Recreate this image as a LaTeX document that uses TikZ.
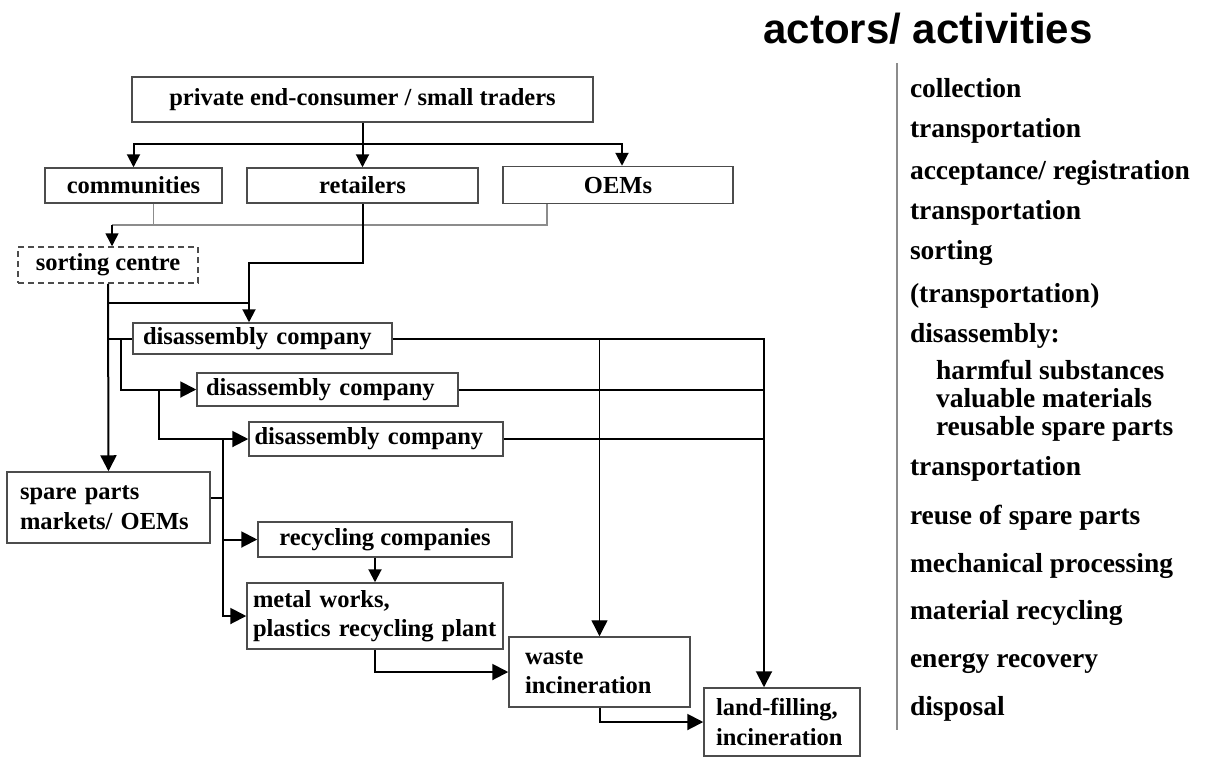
\documentclass[tikz,border=0pt]{standalone}
\usepackage{fontspec}
\usepackage{tikz}
\usetikzlibrary{arrows.meta}
\setmainfont{Liberation Serif}
\newfontfamily\headfont{Liberation Sans}
\definecolor{framegray}{rgb}{0.3,0.3,0.3}
\definecolor{feedgray}{rgb}{0.55,0.55,0.55}

\begin{document}
\begin{tikzpicture}[x=0.5pt, y=-0.5pt, line width=1pt, box/.style = {shape=rectangle, draw=framegray, line width=0.75pt, align=center, fill=white, inner sep=0pt, font=\fontsize{12.25}{14.75}\selectfont\bfseries}, lbox/.style = {box, align=left}, sortbox/.style = {box, dash pattern=on 3pt off 2pt}, tip/.style = {-{Triangle[length=6.5pt, width=6.5pt]}}, arr/.style = {-{Triangle[length=8pt, width=8pt]}}, feed/.style = {draw=feedgray, line width=0.75pt}, act/.style = {anchor=base west, inner sep=0pt, font=\fontsize{13.75}{16}\selectfont\bfseries}, head/.style = {anchor=base, inner sep=0pt, font=\headfont\fontsize{21}{25}\selectfont\bfseries}]
	\useasboundingbox (0,0) rectangle (1210,757);
	\node[box, minimum width=230.5pt, minimum height=22.5pt] (pec) at (362.5,99.5) {private end-consumer / small traders};
	\node[box, minimum width=88.5pt, minimum height=17.5pt] (com) at (133.5,185.5) {communities};
	\node[box, minimum width=115.5pt, minimum height=17.5pt] (ret) at (362.5,185.5) {retailers};
	\node[box, minimum width=115pt, minimum height=18.5pt] (oem) at (618,185) {OEMs};
	\node[sortbox, minimum width=90pt, minimum height=18pt] (sort) at (108,265) {sorting centre};
	\node[lbox, text width=119.5pt, inner xsep=5pt, minimum height=15.5pt] (dis1) at (262.5,338.5) {disassembly company};
	\node[lbox, text width=121.5pt, inner xsep=4.5pt, minimum height=16.5pt] (dis2) at (327.5,389.5) {disassembly company};
	\node[lbox, text width=121.5pt, inner xsep=2.75pt, minimum height=17pt] (dis3) at (376,439) {disassembly company};
	\node[lbox, text width=88.5pt, inner xsep=6.5pt, minimum height=35.5pt] (spp) at (108.5,507.5) {spare parts\\markets/ OEMs};
	\node[box, minimum width=127pt, minimum height=17.5pt] (rec) at (385,539.5) {recycling companies};
	\node[lbox, text width=122pt, inner xsep=3pt, minimum height=33pt] (met) at (375,616) {metal works,\\plastics recycling plant};
	\node[lbox, text width=74.5pt, inner xsep=8pt, minimum height=35pt] (wst) at (599.5,672) {waste\\incineration};
	\node[lbox, text width=66pt, inner xsep=6pt, minimum height=34pt] (lnd) at (782,722) {land-filling,\\incineration};

	\coordinate (split) at (362.5,144);
	\coordinate (gather) at (112,225);
	\coordinate (bend) at (249,263);
	\coordinate (merge) at (249,303);
	\coordinate (fork) at ([xshift=-12.5pt]dis3.west);
	\coordinate (drop) at ([xshift=-9pt]lnd.north);
	\coordinate (side) at ([yshift=4.75pt]spp.east);

	\draw[tip] (pec.south) -- (ret.north);
	\draw[tip] (split) -| (com.north);
	\draw[tip] (split) -| ([xshift=2pt]oem.north);
	\draw[feed] ([xshift=10pt]com.south) |- (gather);
	\draw[feed] (gather) -| ([xshift=-35.5pt]oem.south);
	\draw[tip, line width=0.75pt] (gather) -- (gather |- sort.north);
	\draw[tip] (ret.south) |- (bend) -- (bend |- dis1.north);
	\draw (sort.south |- merge) -- (merge);
	\draw[arr] (sort.south) -- (spp.north);
	\draw (sort.south |- dis1.west) -- (dis1.west);
	\draw[arr] ([xshift=-5.5pt]dis1.west) |- (dis2.west);
	\draw[arr] ([xshift=-18.5pt]dis2.west) |- (dis3.west);
	\draw (side) -- (side -| fork);
	\draw[arr] (fork) |- (met.west);
	\draw[arr] (fork |- rec.west) -- (rec.west);
	\draw[tip] (rec.south -| met.north) -- (met.north);
	\draw[arr] (met.south) |- (wst.west);
	\draw[arr] (wst.south) |- (lnd.west);
	\draw[arr] (dis1.east) -| (drop);
	\draw (dis2.east) -- (dis2.east -| drop);
	\draw (dis3.east) -- (dis3.east -| drop);
	\draw[arr, line width=0.65pt] (dis1.east -| wst.north) -- (wst.north);

	\node[head] (title) at (928,43) {actors/ activities};
	\draw[feed] (897,63) -- (897,730);
	\foreach \y/\t [count=\i] in {97/collection, 137/transportation, 179/{acceptance/ registration}, 219/transportation, 259/sorting, 302/(transportation), 342/disassembly:, 475/transportation, 524/reuse of spare parts, 572/mechanical processing, 619/material recycling, 667/energy recovery, 715/disposal}
		\node[act] (act\i) at (909,\y) {\t};
	\foreach \y/\t [count=\i] in {379/harmful substances, 407/valuable materials, 435/reusable spare parts}
		\node[act] (sub\i) at (935,\y) {\t};
\end{tikzpicture}
\end{document}
